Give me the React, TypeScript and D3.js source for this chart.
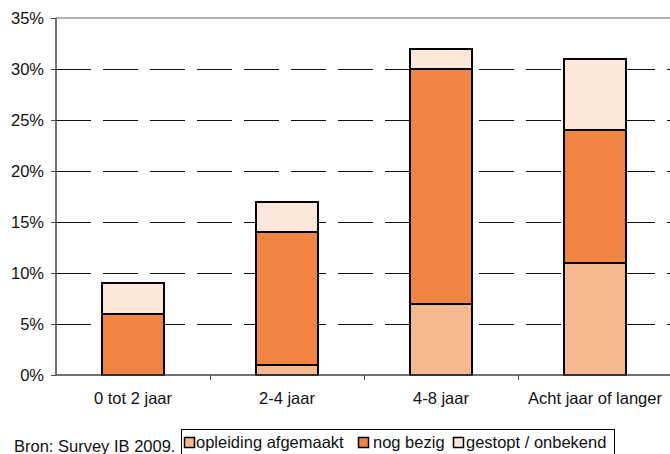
import React from "react";
import * as d3 from "d3";

const categories = ["0 tot 2 jaar", "2-4 jaar", "4-8 jaar", "Acht jaar of langer"];
const seriesNames = ["opleiding afgemaakt", "nog bezig", "gestopt / onbekend"];
const afgemaakt = [0, 1, 7, 11];
const bezig = [6, 13, 23, 13];
const gestopt = [3, 3, 2, 7];
const yTicks = [0, 5, 10, 15, 20, 25, 30, 35];
const colors = ["#F6B98F", "#F08541", "#FCE8DA"];

const W = 670, H = 454;
const left = 56, right = 672, top = 18, bottom = 375;
const font = "'Liberation Sans', Arial, sans-serif";
const fs = 16.5;

export default function App() {
  const xOuter = d3.scaleBand().domain(categories).range([left, right]);
  const y = d3.scaleLinear().domain([0, 35]).range([bottom, top]);
  const rows = categories.map((c, i) => ({ cat: c, a: afgemaakt[i], b: bezig[i], g: gestopt[i] }));
  const stack = d3.stack<any>().keys(["a", "b", "g"])(rows);
  const bw = 62;
  const yr = (v: number) => Math.round(y(v)) + 0.5;

  return (
    <svg width={W} height={H} style={{ position: "absolute", left: 0, top: 0, display: "block" }} fontFamily={font}>
      <rect width={W} height={H} fill="#fff" />
      {yTicks.filter(t => t > 0 && t < 35).map(t => (
        <line key={t} x1={left} x2={right} y1={yr(t)} y2={yr(t)} stroke="#111" strokeWidth={1} strokeDasharray="35,12" />
      ))}
      <line x1={left} x2={right} y1={y(35)} y2={y(35)} stroke="#999" strokeWidth={1.5} />
      {stack.map((s, si) =>
        s.map((d, i) => {
          if (d[1] - d[0] <= 0) return null;
          const cx = (xOuter(categories[i]) as number) + xOuter.bandwidth() / 2;
          return (
            <rect key={si + "-" + i} x={Math.round(cx - bw / 2)} y={Math.round(y(d[1]))} width={bw}
              height={Math.round(y(d[0])) - Math.round(y(d[1]))}
              fill={colors[si]} stroke="#000" strokeWidth={2} />
          );
        })
      )}
      <line x1={left} x2={left} y1={top} y2={bottom} stroke="#444" strokeWidth={1.5} />
      <line x1={left} x2={right} y1={bottom} y2={bottom} stroke="#444" strokeWidth={1.5} />
      {yTicks.map(t => (
        <g key={t}>
          <line x1={left - 5} x2={left} y1={yr(t)} y2={yr(t)} stroke="#444" strokeWidth={1} />
          <text x={44} y={y(t)} dy="0.36em" textAnchor="end" fontSize={fs} fill="#111">{t}%</text>
        </g>
      ))}
      {categories.slice(1).map(c => (
        <line key={c} x1={(xOuter(c) as number) + 0.5} x2={(xOuter(c) as number) + 0.5} y1={bottom} y2={bottom + 5} stroke="#444" strokeWidth={1} />
      ))}
      {categories.map(c => (
        <text key={c} x={(xOuter(c) as number) + xOuter.bandwidth() / 2} y={404} textAnchor="middle" fontSize={fs} fill="#111">{c}</text>
      ))}
      <text x={14} y={452} fontSize={fs} fill="#111">Bron: Survey IB 2009.</text>
      <rect x={181.5} y={429.5} width={433} height={30} fill="#fff" stroke="#000" strokeWidth={1} />
      {[{ x: 184, tx: 196 }, { x: 358, tx: 373 }, { x: 453, tx: 466 }].map((p, i) => (
        <g key={i}>
          <rect x={p.x + 0.5} y={437.5} width={10} height={10} fill={colors[i]} stroke="#000" strokeWidth={1.5} />
          <text x={p.tx} y={448} fontSize={fs} fill="#111">{seriesNames[i]}</text>
        </g>
      ))}
    </svg>
  );
}
